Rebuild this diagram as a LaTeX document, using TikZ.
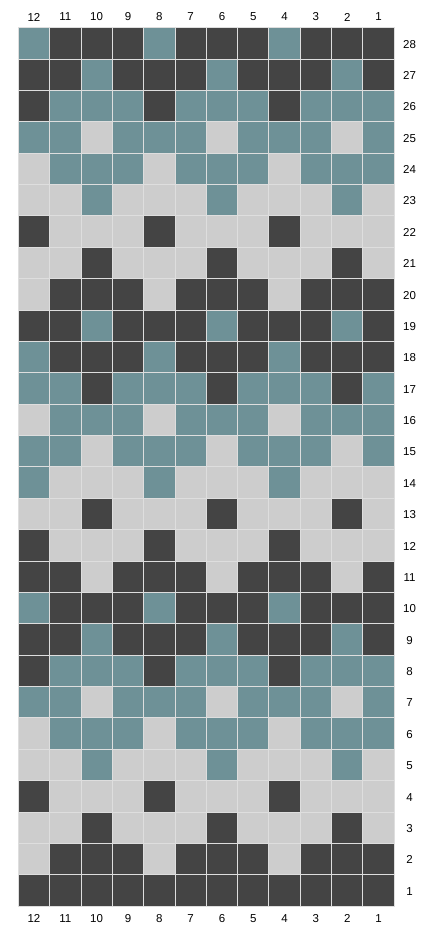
\documentclass[tikz,border=0pt]{standalone}
\usepackage{fontspec}
\setmainfont{Liberation Sans}
\definecolor{cD}{RGB}{68,68,68}
\definecolor{cT}{RGB}{110,145,151}
\definecolor{cL}{RGB}{205,205,205}
\definecolor{gridline}{RGB}{222,222,222}
\begin{document}
\begin{tikzpicture}[x=1pt,y=-1pt,
  cell/.style={draw=gridline,line width=0.9pt},
  lab/.style={font=\fontsize{11.5}{13}\selectfont,inner sep=0pt}]
\useasboundingbox (0,0) rectangle (426,925);
\fill[white] (0,0) rectangle (426,925);
\def\cw{31.33}
\def\ch{31.37}
\def\xo{18.3}
\def\yo{27.7}
\foreach \row [count=\r] in {
{T,D,D,D,T,D,D,D,T,D,D,D},
{D,D,T,D,D,D,T,D,D,D,T,D},
{D,T,T,T,D,T,T,T,D,T,T,T},
{T,T,L,T,T,T,L,T,T,T,L,T},
{L,T,T,T,L,T,T,T,L,T,T,T},
{L,L,T,L,L,L,T,L,L,L,T,L},
{D,L,L,L,D,L,L,L,D,L,L,L},
{L,L,D,L,L,L,D,L,L,L,D,L},
{L,D,D,D,L,D,D,D,L,D,D,D},
{D,D,T,D,D,D,T,D,D,D,T,D},
{T,D,D,D,T,D,D,D,T,D,D,D},
{T,T,D,T,T,T,D,T,T,T,D,T},
{L,T,T,T,L,T,T,T,L,T,T,T},
{T,T,L,T,T,T,L,T,T,T,L,T},
{T,L,L,L,T,L,L,L,T,L,L,L},
{L,L,D,L,L,L,D,L,L,L,D,L},
{D,L,L,L,D,L,L,L,D,L,L,L},
{D,D,L,D,D,D,L,D,D,D,L,D},
{T,D,D,D,T,D,D,D,T,D,D,D},
{D,D,T,D,D,D,T,D,D,D,T,D},
{D,T,T,T,D,T,T,T,D,T,T,T},
{T,T,L,T,T,T,L,T,T,T,L,T},
{L,T,T,T,L,T,T,T,L,T,T,T},
{L,L,T,L,L,L,T,L,L,L,T,L},
{D,L,L,L,D,L,L,L,D,L,L,L},
{L,L,D,L,L,L,D,L,L,L,D,L},
{L,D,D,D,L,D,D,D,L,D,D,D},
{D,D,D,D,D,D,D,D,D,D,D,D}} {
  \foreach \c [count=\k] in \row {
    \path[cell,fill=c\c] ({\xo+(\k-1)*\cw},{\yo+(\r-1)*\ch}) rectangle ++(\cw,\ch);
  }
  \pgfmathtruncatemacro{\rl}{29-\r}
  \node[lab] (row\rl) at (409.5,{\yo+(\r-0.5)*\ch+0.8}) {\rl};
}
\foreach \k in {1,...,12} {
  \pgfmathtruncatemacro{\cl}{13-\k}
  \node[lab] (top\cl) at ({\xo+(\k-0.5)*\cw},17) {\cl};
  \node[lab] (bot\cl) at ({\xo+(\k-0.5)*\cw},918.5) {\cl};
}
\end{tikzpicture}
\end{document}
